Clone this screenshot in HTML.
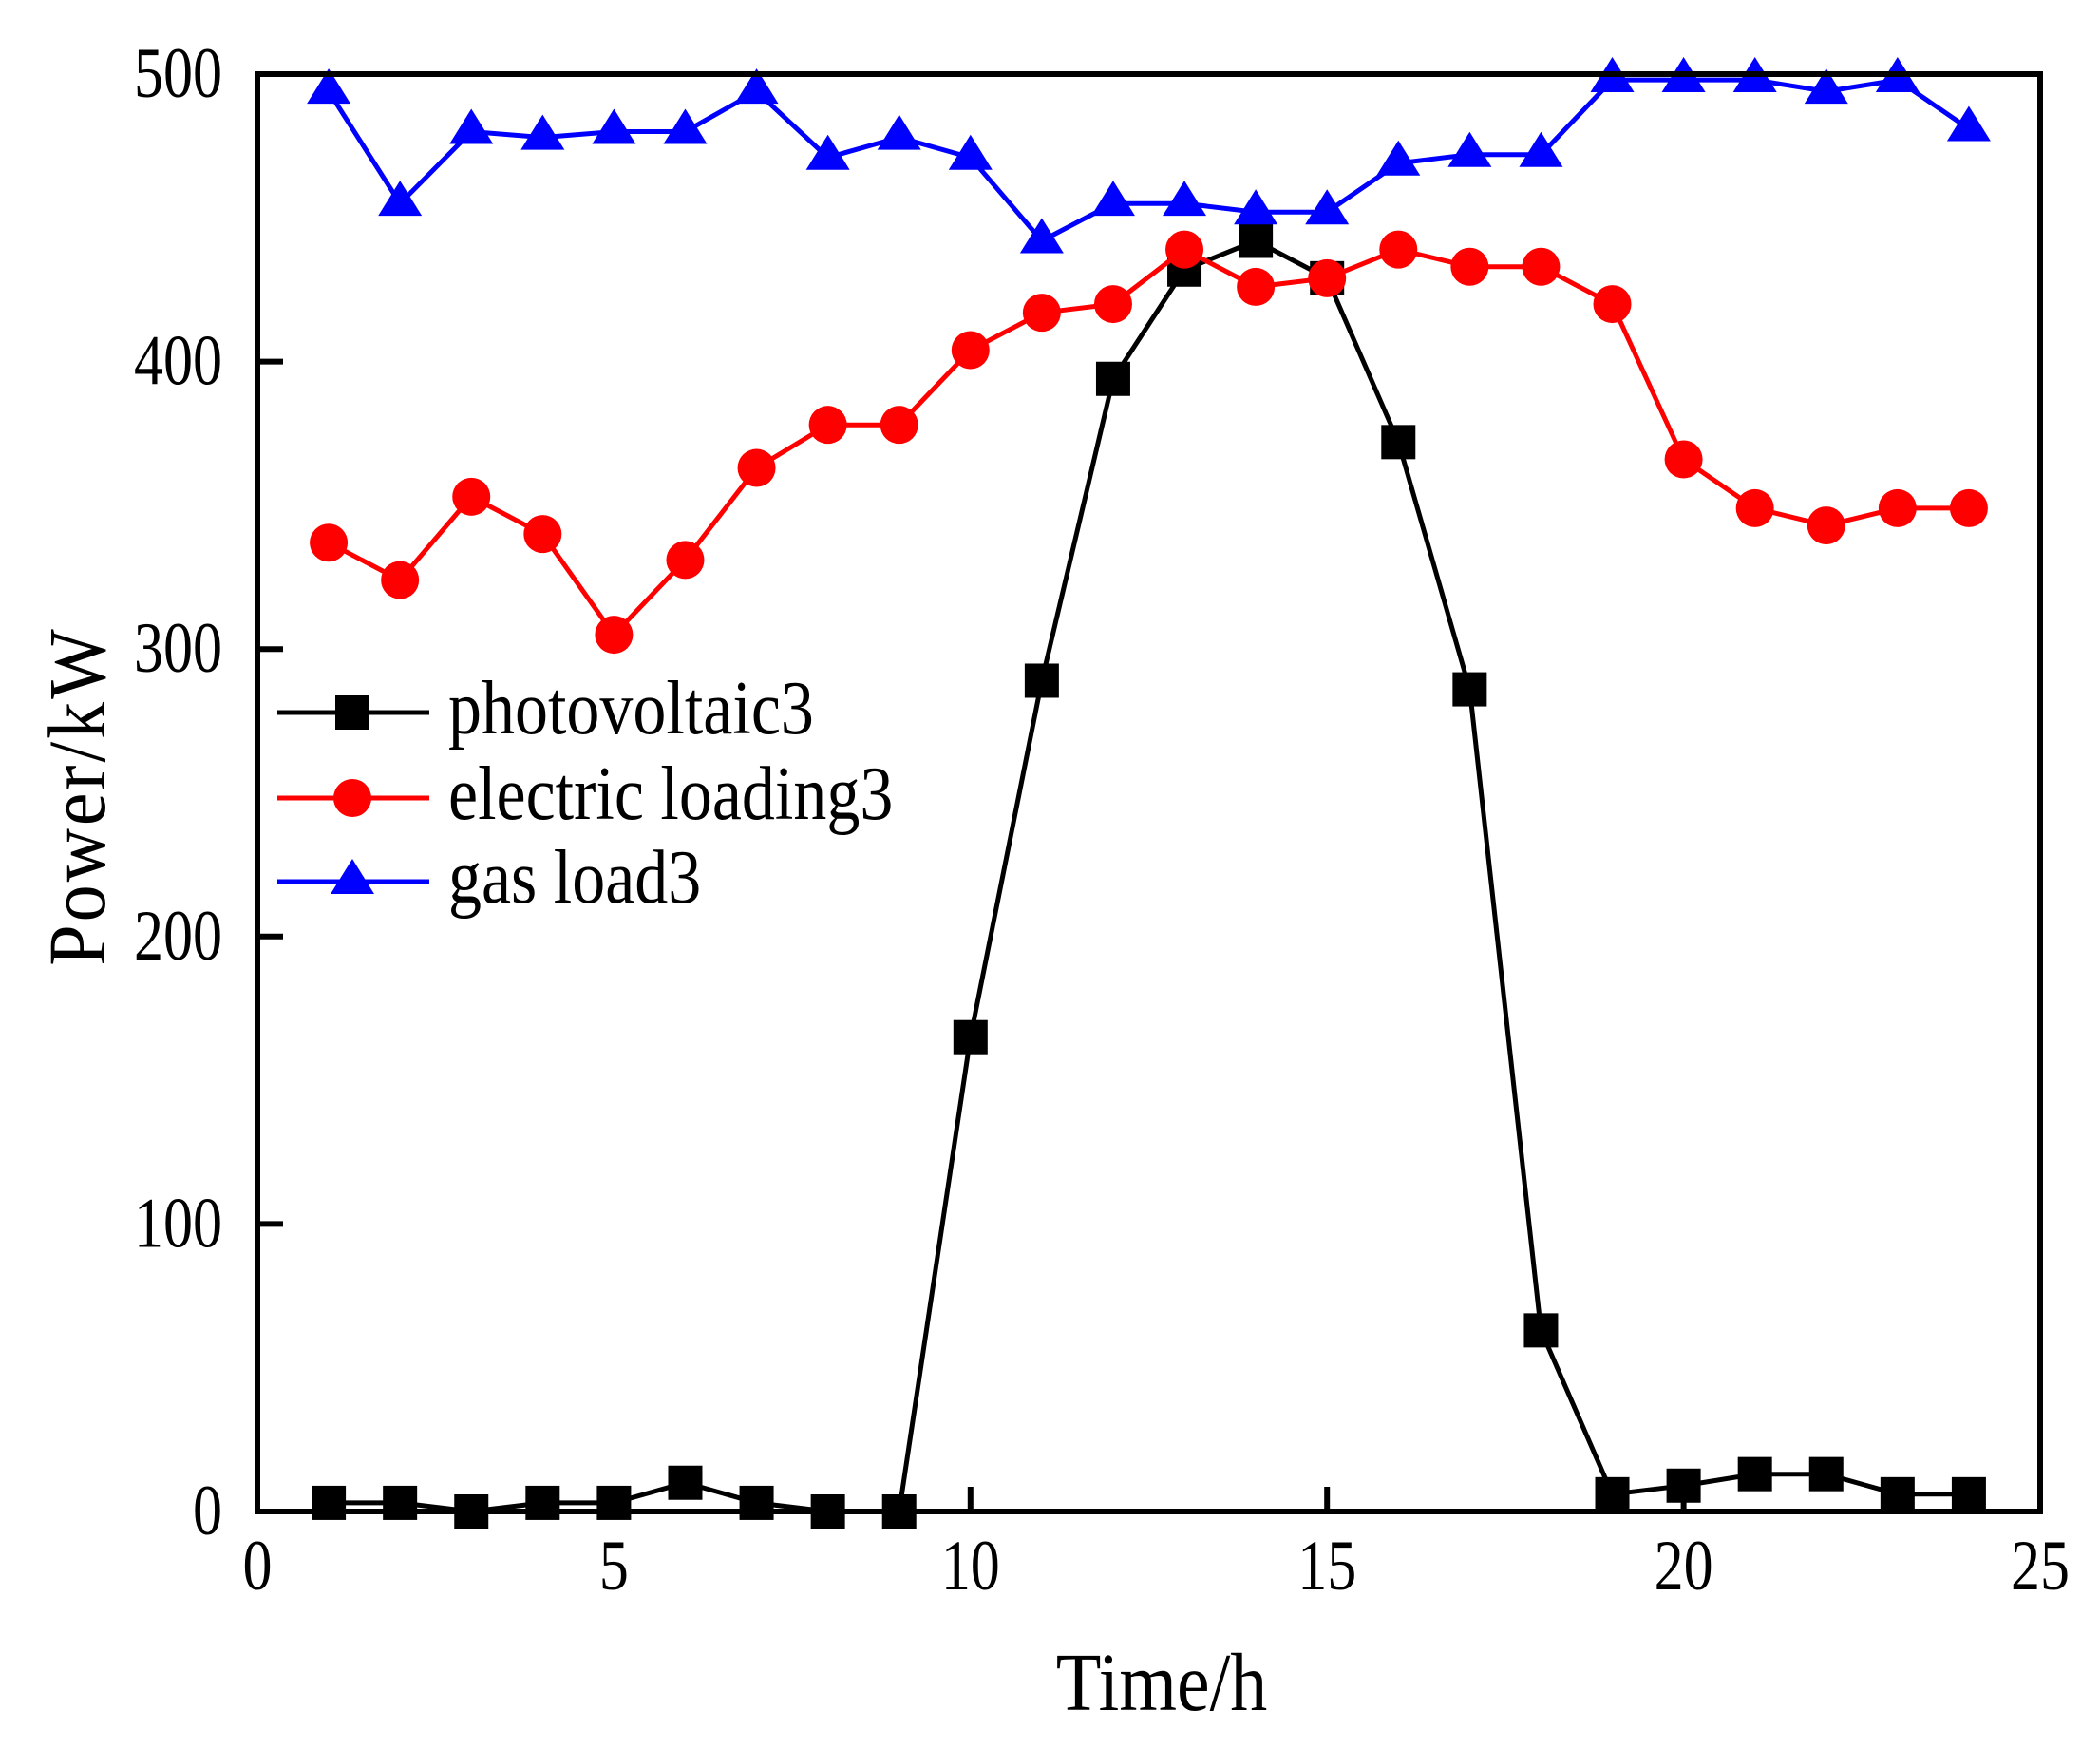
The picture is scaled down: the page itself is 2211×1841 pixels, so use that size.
<!DOCTYPE html>
<html><head><meta charset="utf-8"><style>
html,body{margin:0;padding:0;background:#fff}
svg{display:block}
text{font-family:"Liberation Serif",serif;fill:#000}
</style></head><body>
<svg id="s" width="2211" height="1841" viewBox="0 0 2211 1841" xmlns="http://www.w3.org/2000/svg">
<rect width="2211" height="1841" fill="#fff"/>
<g id="plot"></g>
<rect x="271" y="78" width="1877" height="1513" fill="none" stroke="#000" stroke-width="6"/>
<g id="ticks" stroke="#000" stroke-width="6"></g>
<g id="labels" font-size="62"></g>
<text transform="translate(1223,1800) scale(1,1.12)" font-size="78" text-anchor="middle">Time/h</text>
<text transform="translate(110,838) rotate(-90) scale(1,1.1)" font-size="78" text-anchor="middle" letter-spacing="3">Power/kW</text>
<g font-size="70">
<line x1="292" y1="750" x2="452" y2="750" stroke="#000" stroke-width="5"/>
<rect x="353" y="732" width="36" height="36" fill="#000"/>
<text transform="translate(472,772) scale(1,1.15)">photovoltaic3</text>
<line x1="292" y1="840" x2="452" y2="840" stroke="#f00" stroke-width="5"/>
<circle cx="371" cy="840" r="20" fill="#f00"/>
<text transform="translate(472,862) scale(1,1.15)">electric loading3</text>
<line x1="292" y1="928" x2="452" y2="928" stroke="#00f" stroke-width="5"/>
<polygon points="371,904 394,941 348,941" fill="#00f"/>
<text transform="translate(472,950) scale(1,1.15)">gas load3</text>
</g>
</svg>
<script>
var X=function(v){return 271+v*75.08},Y=function(v){return 1591-v*3.026};
var pv=[3,3,0,3,3,10,3,0,0,165,289,394,432,442,429,372,286,63,6,9,13,13,6,6];
var el=[337,324,353,340,305,331,363,378,378,404,417,420,439,426,429,439,433,433,420,366,349,343,349,349];
var gs=[494,455,480,478,480,480,494,471,478,471,442,455,455,452,452,469,472,472,498,498,498,494,498,481];
var h='';
function series(d,c,m){
 var p=d.map(function(v,i){return X(i+1).toFixed(1)+','+Y(v).toFixed(1)}).join(' ');
 h+='<polyline points="'+p+'" fill="none" stroke="'+c+'" stroke-width="5"/>';
 d.forEach(function(v,i){var x=X(i+1),y=Y(v);
  if(m=='s')h+='<rect x="'+(x-18)+'" y="'+(y-18)+'" width="36" height="36" fill="'+c+'"/>';
  else if(m=='c')h+='<circle cx="'+x+'" cy="'+y+'" r="20" fill="'+c+'"/>';
  else h+='<polygon points="'+x+','+(y-24)+' '+(x+23)+','+(y+13)+' '+(x-23)+','+(y+13)+'" fill="'+c+'"/>';
 });
}
series(pv,'#000','s');series(el,'#f00','c');series(gs,'#00f','t');
document.getElementById('plot').innerHTML=h;
var t='',l='';
for(var i=0;i<=5;i++){var y=Y(i*100);
 if(i>0&&i<5)t+='<line x1="271" y1="'+y+'" x2="298" y2="'+y+'"/>';
 l+='<text transform="translate(234,'+(y+24)+') scale(1,1.22)" text-anchor="end">'+(i*100)+'</text>';}
for(var i=0;i<=5;i++){var x=X(i*5);
 if(i>0&&i<5)t+='<line x1="'+x+'" y1="1591" x2="'+x+'" y2="1565"/>';
 l+='<text transform="translate('+x+',1673) scale(1,1.22)" text-anchor="middle">'+(i*5)+'</text>';}
document.getElementById('ticks').innerHTML=t;
document.getElementById('labels').innerHTML=l;
</script>
</body></html>
